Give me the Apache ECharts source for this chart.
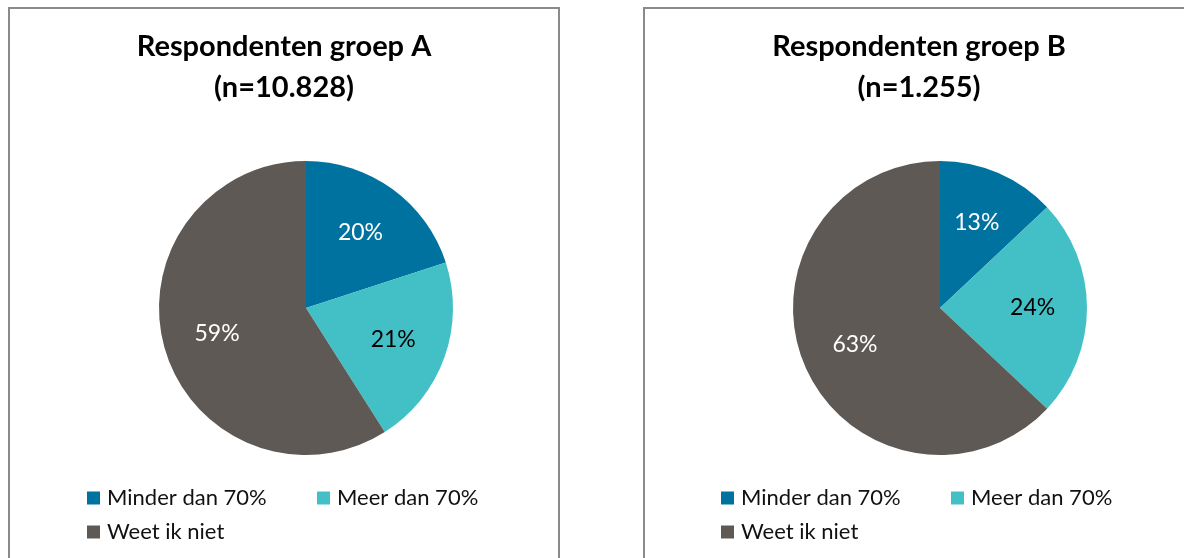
<!DOCTYPE html>
<html>
<head>
<meta charset="utf-8">
<script src="https://cdn.jsdelivr.net/npm/echarts@6/dist/echarts.min.js"></script>
<style>
  html, body { margin: 0; padding: 0; background: #fff; }
  #main { width: 1184px; height: 558px; }
</style>
</head>
<body>
<div id="main"></div>
<script>
// categories
var categories = ['Minder dan 70%', 'Meer dan 70%', 'Weet ik niet'];
// percentages per group
var groepA = [20, 21, 59];
var groepB = [13, 24, 63];
var titelA = 'Respondenten groep A\n(n=10.828)';
var titelB = 'Respondenten groep B\n(n=1.255)';

var colors = ['#00729f', '#43c0c6', '#5e5955'];
var labelColors = ['#ffffff', '#000000', '#ffffff'];
var FONT = 'Lato, "Open Sans", sans-serif';
var R = 147;

var chart = echarts.init(document.getElementById('main'));

function pieData(values) {
    return categories.map(function (name, i) {
        return { name: name, value: values[i], itemStyle: { color: colors[i] } };
    });
}
// transparent copy that only carries the labels a bit further out
function labelData(values) {
    return categories.map(function (name, i) {
        return { name: name, value: values[i], label: { color: labelColors[i] } };
    });
}

function pieSeries(values, cx) {
    return [
        {
            type: 'pie',
            center: [cx, 308],
            radius: [0, R],
            startAngle: 90,
            clockwise: true,
            label: { show: false },
            labelLine: { show: false },
            emphasis: { disabled: true },
            data: pieData(values)
        },
        {
            type: 'pie',
            center: [cx, 308],
            radius: [R * 0.22, R],
            startAngle: 90,
            clockwise: true,
            silent: true,
            itemStyle: { color: 'rgba(0,0,0,0)' },
            label: {
                show: true,
                position: 'inside',
                formatter: '{c}%',
                fontFamily: FONT,
                fontSize: 23
            },
            labelLine: { show: false },
            emphasis: { disabled: true },
            data: labelData(values)
        }
    ];
}

function legend(left) {
    return {
        left: left,
        top: 486,
        width: 470,
        padding: 0,
        orient: 'horizontal',
        itemWidth: 13,
        itemHeight: 13,
        itemGap: 10,
        icon: 'rect',
        selectedMode: false,
        data: categories,
        textStyle: {
            fontFamily: FONT,
            fontSize: 22,
            color: '#111',
            width: 200,
            lineHeight: 24,
            padding: [0, 0, 0, 2]
        }
    };
}

function panel(x, title) {
    return [
        {
            type: 'rect',
            shape: { x: x, y: 8, width: 550, height: 600 },
            style: { fill: 'none', stroke: '#8a8a8a', lineWidth: 2 },
            silent: true
        },
        {
            type: 'text',
            x: x + 275,
            y: 67,
            style: {
                text: title,
                align: 'center',
                verticalAlign: 'middle',
                fontFamily: FONT,
                fontWeight: 'bold',
                fontSize: 29,
                lineHeight: 41,
                fill: '#000'
            },
            silent: true
        }
    ];
}

chart.setOption({
    animation: false,
    graphic: panel(9, titelA).concat(panel(644, titelB)),
    legend: [legend(87), legend(721)],
    series: pieSeries(groepA, 306).concat(pieSeries(groepB, 940))
});

window.onresize = function () {
    chart.resize();
};
</script>
</body>
</html>
